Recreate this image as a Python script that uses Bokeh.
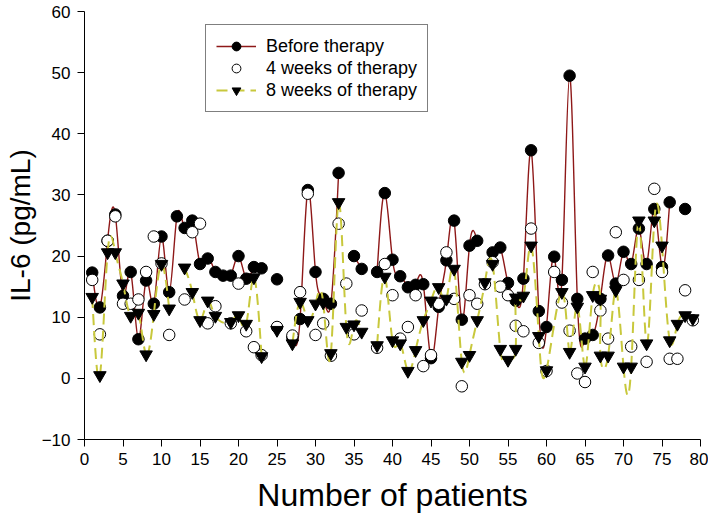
import numpy as np
from bokeh.plotting import figure
from bokeh.models import Range1d, FixedTicker, Legend, LegendItem, ColumnDataSource
from bokeh.embed import file_html
from bokeh.resources import INLINE

nan = float("nan")

# ---------------- data ----------------
x_ticks = list(range(0, 81, 5))
y_ticks = list(range(-10, 61, 10))

# Before therapy (nan = no value, curve is broken there)
before_patient = list(range(1, 79))
before_il6 = [17.3, 11.6, 22.5, 26.8, 13.5, 17.4, 6.4, 16.0, 12.2, 23.2,
              14.1, 26.5, 24.6, 25.8, 18.7, 19.6, 17.4, 16.8, 16.8, 20.0,
              16.3, 18.2, 18.0, nan, 16.2, nan, 6.7, 9.7, 30.8, 17.4,
              13.0, 12.2, 33.6, nan, 20.0, 17.9, nan, 17.4, 30.3, 19.4,
              16.7, 14.9, 15.3, 15.4, 3.3, 11.7, 19.3, 25.8, 9.6, 21.7,
              22.5, nan, 20.6, 21.4, 15.6, 12.7, 16.3, 37.3, 11.0, 8.4,
              19.9, 16.1, 49.5, 13.0, 6.5, 7.1, 13.0, 20.1, 15.5, 20.7,
              18.7, 24.5, 18.7, 27.7, 18.2, 28.8, nan, 27.7]

# 4 weeks of therapy (symbols only)
week4_patient = list(range(1, 80))
week4_il6 = [16.1, 7.2, 22.5, 26.5, 12.2, 12.2, 12.9, 17.4, 23.2, 18.8,
             7.1, nan, 12.9, 23.9, 25.3, 9.0, 11.8, nan, 9.0, 15.5,
             7.7, 5.1, 3.8, nan, 8.4, nan, 7.0, 14.1, 30.2, 7.1,
             9.0, 3.7, 25.3, 15.5, 7.2, 11.1, nan, 5.0, 18.7, 13.6,
             6.5, 8.4, 13.6, 2.0, 3.8, 12.2, 20.6, 13.0, -1.3, 13.6,
             12.2, 15.4, 19.0, 15.0, 13.6, 8.6, 7.7, 24.5, 5.8, 1.2,
             17.4, 12.4, 7.8, 0.8, -0.6, 17.4, 11.1, 6.5, 23.9, 16.1,
             5.2, 16.1, 2.7, 31.0, 17.4, 3.2, 3.2, 14.4, 9.5]

# 8 weeks of therapy (nan = curve is broken there)
week8_patient = [1, 2, 3, 4, 5, 6, 7, 8, 9, 10,
                 11, 12, 13, 14, 15, 16, 17, 19, 20,
                 21, 22, 23, 24, 25, 26, 27, 28, 29, 30,
                 31, 32, 33, 34, 35, 36, 37, 38, 39, 40,
                 41, 42, 43, 44, 45, 46, 47, 48, 49, 50,
                 51, 52, 53, 54, 55, 56, 56, 57, 58, 59, 60,
                 62, 63, 64, 65, 66, 67, 67, 68, 69, 70,
                 71, 72, 73, 74, 75, 76, 77, 78, 79]
week8_il6 = [13.3, 0.5, 20.6, 20.6, 15.5, 10.2, 10.7, 3.9, 10.5, 18.7,
             11.4, nan, 18.1, 14.1, 9.5, 12.7, 10.2, 9.2, 10.3,
             8.9, 16.5, 3.6, nan, 7.9, nan, 5.7, 12.5, 9.5, 12.2,
             12.4, 4.1, 28.8, 8.4, 8.8, 7.6, nan, 5.4, 16.6, 6.2,
             5.7, 1.2, 4.6, 9.5, 12.7, 14.9, 13.0, 17.9, 2.7, 3.8,
             9.5, 15.7, 18.7, 4.8, 3.0, 4.8, 13.2, 13.5, 21.7, 6.9, 1.3,
             14.1, 4.3, 11.7, 1.9, 13.6, 13.0, 3.7, 3.7, 14.4, 1.9,
             1.9, 25.8, 5.7, 25.8, 21.7, 6.2, 8.9, 10.3, 9.8]

FONT = "Liberation Sans"
RED = "#8e1818"
YEL = "#c8c83c"


def spline_source(xs, ys):
    """Cubic-spline (natural, parametric) curve through each unbroken run,
    expressed as Bezier segments for Bokeh's bezier glyph."""
    xs = np.asarray(xs, float)
    ys = np.asarray(ys, float)
    runs, cur = [], []
    for i in range(len(xs)):
        if np.isnan(ys[i]):
            if len(cur) > 1:
                runs.append(cur)
            cur = []
        else:
            cur.append(i)
    if len(cur) > 1:
        runs.append(cur)
    d = {k: [] for k in ("x0", "y0", "x1", "y1", "cx0", "cy0", "cx1", "cy1")}
    for r in runs:
        P = np.column_stack([xs[r], ys[r]])
        n = len(P)
        A = np.zeros((n, n))
        B = np.zeros((n, 2))
        A[0, 0], A[0, 1] = 2, 1
        B[0] = 3 * (P[1] - P[0])
        A[-1, -1], A[-1, -2] = 2, 1
        B[-1] = 3 * (P[-1] - P[-2])
        for i in range(1, n - 1):
            A[i, i - 1], A[i, i], A[i, i + 1] = 1, 4, 1
            B[i] = 3 * (P[i + 1] - P[i - 1])
        D = np.linalg.solve(A, B)
        for i in range(n - 1):
            c0 = P[i] + D[i] / 3
            c1 = P[i + 1] - D[i + 1] / 3
            d["x0"].append(P[i, 0]); d["y0"].append(P[i, 1])
            d["x1"].append(P[i + 1, 0]); d["y1"].append(P[i + 1, 1])
            d["cx0"].append(c0[0]); d["cy0"].append(c0[1])
            d["cx1"].append(c1[0]); d["cy1"].append(c1[1])
    return ColumnDataSource(d)


def pts(xs, ys):
    xs = np.asarray(xs, float)
    ys = np.asarray(ys, float)
    ok = ~np.isnan(ys)
    return ColumnDataSource(dict(x=xs[ok], y=ys[ok]))


p = figure(width=708, height=518, output_backend="svg", toolbar_location=None,
           x_range=Range1d(0, 80), y_range=Range1d(-10, 60),
           min_border_left=84, min_border_right=8, min_border_top=11,
           min_border_bottom=79)
p.outline_line_color = None
p.xgrid.visible = False
p.ygrid.visible = False
p.background_fill_color = "white"
p.border_fill_color = "white"

bezier_kw = dict(x0="x0", y0="y0", x1="x1", y1="y1",
                 cx0="cx0", cy0="cy0", cx1="cx1", cy1="cy1")

r_before_line = p.bezier(source=spline_source(before_patient, before_il6),
                         line_color=RED, line_width=1.4, **bezier_kw)
r_before_pts = p.scatter("x", "y", source=pts(before_patient, before_il6),
                         marker="circle", size=11.5, fill_color="black",
                         line_color="black")
r_w4 = p.scatter("x", "y", source=pts(week4_patient, week4_il6),
                 marker="circle", size=11.5, fill_color="white",
                 line_color="black", line_width=1)
r_w8_line = p.bezier(source=spline_source(week8_patient, week8_il6),
                     line_color=YEL, line_width=2, line_dash="11 6", **bezier_kw)
r_w8_pts = p.scatter("x", "y", source=pts(week8_patient, week8_il6),
                     marker="inverted_triangle", size=12.5, fill_color="black",
                     line_color="black")

# axes
for ax in (p.xaxis[0], p.yaxis[0]):
    ax.axis_line_color = "black"
    ax.axis_line_width = 1
    ax.major_tick_line_color = "black"
    ax.major_tick_in = 0
    ax.major_tick_out = 7
    ax.minor_tick_line_color = None
    ax.major_label_text_font = FONT
    ax.major_label_text_font_size = "17px"
    ax.major_label_text_color = "black"
    ax.axis_label_text_font = FONT
    ax.axis_label_text_font_style = "normal"
    ax.axis_label_text_color = "black"

p.xaxis.ticker = FixedTicker(ticks=x_ticks)
p.yaxis.ticker = FixedTicker(ticks=y_ticks)
p.xaxis.major_label_standoff = 6
p.yaxis.major_label_standoff = 7
p.xaxis.axis_label = "Number of patients"
p.xaxis.axis_label_text_font_size = "32px"
p.xaxis.axis_label_standoff = 9
p.yaxis.axis_label = "IL-6 (pg/mL)"
p.yaxis.axis_label_text_font_size = "28px"
p.yaxis.axis_label_standoff = 3

legend = Legend(items=[
    LegendItem(label="Before therapy", renderers=[r_before_line, r_before_pts]),
    LegendItem(label="4 weeks of therapy", renderers=[r_w4]),
    LegendItem(label="8 weeks of therapy", renderers=[r_w8_line, r_w8_pts]),
], location=(121, 327))
legend.border_line_color = "black"
legend.border_line_width = 1
legend.background_fill_color = "white"
legend.background_fill_alpha = 1
legend.padding = 10
legend.spacing = 0
legend.margin = 0
legend.glyph_height = 22
legend.glyph_width = 40
legend.label_standoff = 10
legend.label_text_font = FONT
legend.label_text_font_size = "18px"
legend.label_text_color = "black"
p.add_layout(legend)

open("out.html", "w").write(file_html(p, INLINE))
